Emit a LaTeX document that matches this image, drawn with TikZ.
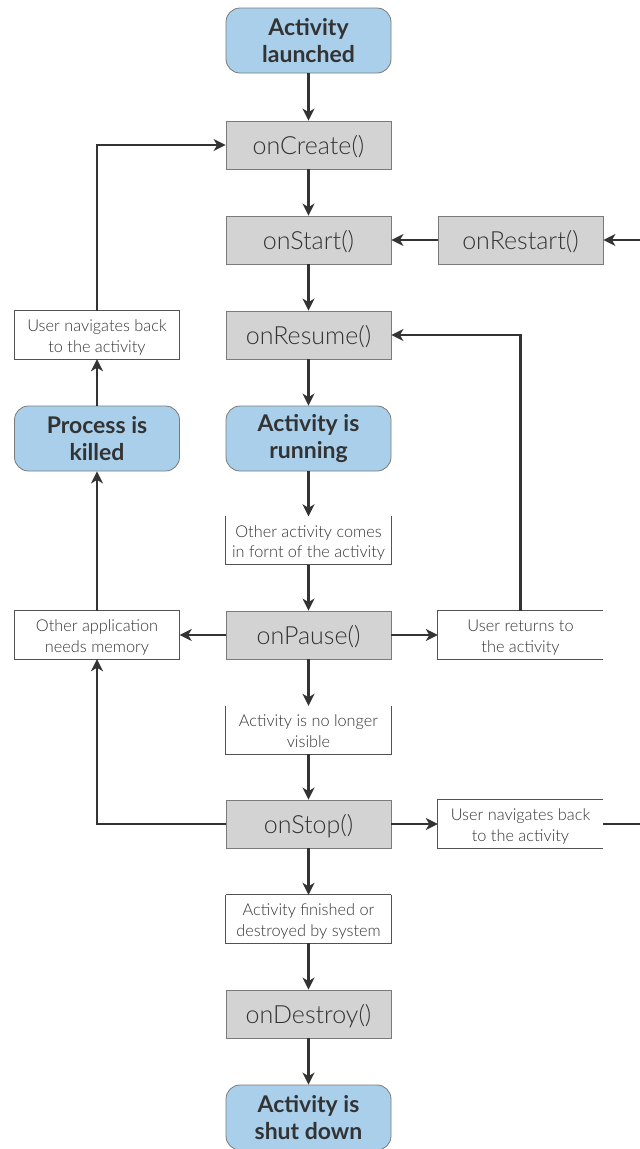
\documentclass[tikz,border=0pt]{standalone}
\usepackage{fontspec}
\setmainfont{Lato}[UprightFont=* Light, BoldFont=* Bold]
\usetikzlibrary{arrows.meta}
\definecolor{stateblue}{HTML}{A9CFEB}
\definecolor{callgray}{HTML}{D3D3D3}
\definecolor{ink}{HTML}{333333}
\definecolor{edge}{HTML}{7A7A7A}
\tikzset{
  every node/.style={text=ink, align=center, inner sep=0pt},
  state/.style={draw=edge, line width=0.8pt, fill=stateblue, rounded corners=14pt,
    minimum width=165pt, minimum height=65pt, font=\fontsize{23}{27}\selectfont\bfseries},
  callback/.style={draw=edge, line width=0.8pt, fill=callgray,
    minimum width=165pt, minimum height=48pt, text height=25pt, text depth=6pt,
    font=\fontsize{25}{27}\selectfont},
  note/.style={minimum width=165pt, minimum height=48pt, text height=38pt, text depth=4pt,
    font=\fontsize{16.3}{20.5}\selectfont},
  noteline/.style={draw=ink!85, line width=0.8pt},
  flow/.style={draw=ink, line width=2.6pt, -{Stealth[length=12pt,width=12pt,inset=3.5pt]}},
  plain/.style={draw=ink, line width=2.6pt},
}
\begin{document}
\begin{tikzpicture}[x=1pt, y=-1pt]
\useasboundingbox (0,0) rectangle (640,1149);
\clip (0,0) rectangle (640,1149);

% main column
\node[state]    (launched) at (308.5,40.5)   {Activity\\launched};
\node[callback] (create)   at (308.5,145)    {onCreate()};
\node[callback] (start)    at (308.5,240)    {onStart()};
\node[callback] (restart)  at (520.5,240)    {onRestart()};
\node[callback] (resume)   at (308.5,335)    {onResume()};
\node[state]    (running)  at (308.5,438.5)  {Activity is\\running};
\node[note]     (infront)  at (308.5,540.5)  {Other activity comes\\in fornt of the activity};
\node[callback] (pause)    at (308.5,635)    {onPause()};
\node[note]     (needmem)  at (97,635)       {Other application\\needs memory};
\node[note]     (returns)  at (520.5,635)    {User returns to\\the activity};
\node[note]     (novis)    at (308.5,730)    {Activity is no longer\\visible};
\node[callback] (stop)     at (308.5,824)    {onStop()};
\node[note]     (navright) at (520.5,824)    {User navigates back\\to the activity};
\node[note]     (finished) at (308.5,919)    {Activity finished or\\destroyed by system};
\node[callback] (destroy)  at (308.5,1014)   {onDestroy()};
\node[state]    (shutdown) at (308.5,1117.5) {Activity is\\shut down};

% left column
\node[note]     (navleft)  at (97,335)       {User navigates back\\to the activity};
\node[state]    (killed)   at (97,438.5)     {Process is\\killed};

% note borders
\draw[noteline] (needmem.north west) rectangle (needmem.south east);
\draw[noteline] (navleft.north west) rectangle (navleft.south east);
\foreach \n in {infront, novis, finished}
  \draw[noteline] (\n.north west) -- (\n.south west) -- (\n.south east) -- (\n.north east);
\draw[noteline] (finished.north west) -- (finished.north east);
\foreach \n in {returns, navright}
  \draw[noteline] (\n.north east) -- (\n.north west) -- (\n.south west) -- (\n.south east);

% free ends at the right margin
\coordinate (restartin) at (640,240);
\coordinate (navout)    at (640,824);

% connectors
\draw[flow] (launched) -- (create);
\draw[flow] (create) -- (start);
\draw[flow] (restart) -- (start);
\draw[flow] (restartin) -- (restart);
\draw[flow] (start) -- (resume);
\draw[flow] (resume) -- (running);
\draw[flow] (running) -- (infront);
\draw[flow] (infront) -- (pause);
\draw[flow] (pause) -- (needmem);
\draw[flow] (pause) -- (returns);
\draw[flow] (returns.north) |- (resume.east);
\draw[flow] (pause) -- (novis);
\draw[flow] (novis) -- (stop);
\draw[flow] (stop) -- (navright);
\draw[plain] (navright.east) -- (navout);
\draw[flow] (stop.west) -| (needmem.south);
\draw[flow] (needmem) -- (killed);
\draw[flow] (killed) -- (navleft);
\draw[flow] (navleft.north) |- (create.west);
\draw[flow] (stop) -- (finished);
\draw[flow] (finished) -- (destroy);
\draw[flow] (destroy) -- (shutdown);
\end{tikzpicture}
\end{document}
